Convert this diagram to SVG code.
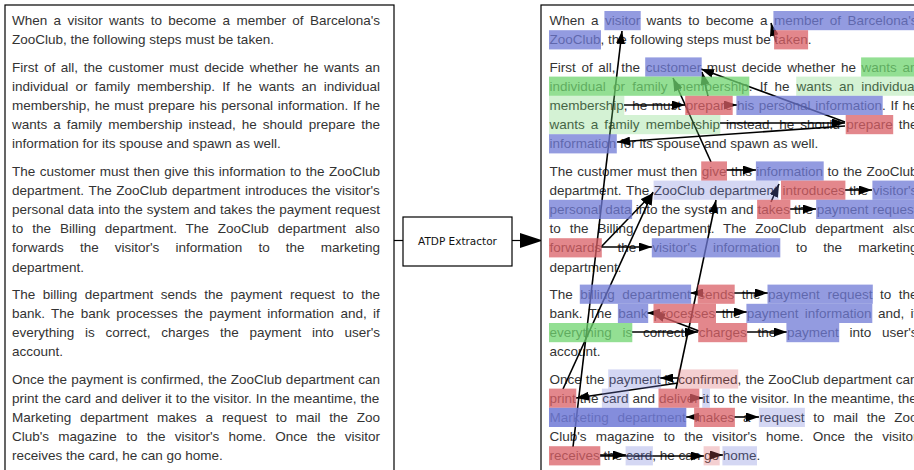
<svg xmlns="http://www.w3.org/2000/svg" width="914" height="470" viewBox="0 0 914 470">
<style>
.t{font-family:"Liberation Sans",Arial,Helvetica,sans-serif;font-size:13.5px;fill:#333}
.box{fill:#fff;stroke:#000;stroke-width:1.2}
.hb{fill:#6f79d6;fill-opacity:.75}
.hr{fill:#d95f66;fill-opacity:.75}
.hg{fill:#6fd46f;fill-opacity:.75}
.lb{fill:#6f79d6;fill-opacity:.3}
.lr{fill:#d95f66;fill-opacity:.3}
.lg{fill:#6fd46f;fill-opacity:.3}
.rel{fill:none;stroke:#000;stroke-width:1.6;marker-end:url(#ah)}
.flow{fill:none;stroke:#000;stroke-width:1.2}
</style>
<defs>
<marker id="ah" markerUnits="userSpaceOnUse" markerWidth="13" markerHeight="9" refX="13" refY="4.5" orient="auto">
<path d="M0,0 L13,4.5 L0,9 z" fill="#000"/>
</marker>
</defs>
<rect width="914" height="470" fill="#fff"/>

<g id="input-panel">
<rect class="box" x="5" y="5" width="389" height="480"/>
<text class="t" x="12" y="25.2" style="word-spacing:2.59px">When a visitor wants to become a member of Barcelona's</text>
<text class="t" x="12" y="44.4">ZooClub, the following steps must be taken.</text>
<text class="t" x="12" y="71.6" style="word-spacing:1.91px">First of all, the customer must decide whether he wants an</text>
<text class="t" x="12" y="90.8" style="word-spacing:3.42px">individual or family membership. If he wants an individual</text>
<text class="t" x="12" y="110" style="word-spacing:0.89px">membership, he must prepare his personal information. If he</text>
<text class="t" x="12" y="129.2" style="word-spacing:2.29px">wants a family membership instead, he should prepare the</text>
<text class="t" x="12" y="148.4">information for its spouse and spawn as well.</text>
<text class="t" x="12" y="175.6" style="word-spacing:0.71px">The customer must then give this information to the ZooClub</text>
<text class="t" x="12" y="194.8" style="word-spacing:0.88px">department. The ZooClub department introduces the visitor's</text>
<text class="t" x="12" y="214" style="word-spacing:0.29px">personal data into the system and takes the payment request</text>
<text class="t" x="12" y="233.2" style="word-spacing:5.19px">to the Billing department. The ZooClub department also</text>
<text class="t" x="12" y="252.4" style="word-spacing:12.38px">forwards the visitor's information to the marketing</text>
<text class="t" x="12" y="271.6">department.</text>
<text class="t" x="12" y="298.8" style="word-spacing:3.79px">The billing department sends the payment request to the</text>
<text class="t" x="12" y="318" style="word-spacing:2.57px">bank. The bank processes the payment information and, if</text>
<text class="t" x="12" y="337.2" style="word-spacing:6.97px">everything is correct, charges the payment into user's</text>
<text class="t" x="12" y="356.4">account.</text>
<text class="t" x="12" y="383.6" style="word-spacing:0.32px">Once the payment is confirmed, the ZooClub department can</text>
<text class="t" x="12" y="402.8" style="word-spacing:0.15px">print the card and deliver it to the visitor. In the meantime, the</text>
<text class="t" x="12" y="422" style="word-spacing:5.01px">Marketing department makes a request to mail the Zoo</text>
<text class="t" x="12" y="441.2" style="word-spacing:5.5px">Club's magazine to the visitor's home. Once the visitor</text>
<text class="t" x="12" y="460.4">receives the card, he can go home.</text>
</g>

<g id="atdp-extractor">
<rect class="box" x="403" y="217" width="109" height="49"/>
<text x="457.5" y="245" text-anchor="middle" style="font-family:'DejaVu Sans',sans-serif;font-size:10.5px;fill:#111">ATDP Extractor</text>
</g>

<g id="connectors">
<path class="flow" d="M394,240.5 L403,240.5"/>
<path class="flow" d="M512,240.5 L521,240.5"/>
<polygon points="520,233 543,240.5 520,248" fill="#000"/>
</g>

<g id="output-panel">
<rect class="box" x="541" y="5" width="400" height="480"/>
<g id="output-text">
<text class="t" x="549.5" y="25.2" style="word-spacing:2.59px">When a visitor wants to become a member of Barcelona's</text>
<text class="t" x="549.5" y="44.4">ZooClub, the following steps must be taken.</text>
<text class="t" x="549.5" y="71.6" style="word-spacing:1.91px">First of all, the customer must decide whether he wants an</text>
<text class="t" x="549.5" y="90.8" style="word-spacing:3.42px">individual or family membership. If he wants an individual</text>
<text class="t" x="549.5" y="110" style="word-spacing:0.89px">membership, he must prepare his personal information. If he</text>
<text class="t" x="549.5" y="129.2" style="word-spacing:2.29px">wants a family membership instead, he should prepare the</text>
<text class="t" x="549.5" y="148.4">information for its spouse and spawn as well.</text>
<text class="t" x="549.5" y="175.6" style="word-spacing:0.71px">The customer must then give this information to the ZooClub</text>
<text class="t" x="549.5" y="194.8" style="word-spacing:0.88px">department. The ZooClub department introduces the visitor's</text>
<text class="t" x="549.5" y="214" style="word-spacing:0.29px">personal data into the system and takes the payment request</text>
<text class="t" x="549.5" y="233.2" style="word-spacing:5.19px">to the Billing department. The ZooClub department also</text>
<text class="t" x="549.5" y="252.4" style="word-spacing:12.38px">forwards the visitor's information to the marketing</text>
<text class="t" x="549.5" y="271.6">department.</text>
<text class="t" x="549.5" y="298.8" style="word-spacing:3.79px">The billing department sends the payment request to the</text>
<text class="t" x="549.5" y="318" style="word-spacing:2.57px">bank. The bank processes the payment information and, if</text>
<text class="t" x="549.5" y="337.2" style="word-spacing:6.97px">everything is correct, charges the payment into user's</text>
<text class="t" x="549.5" y="356.4">account.</text>
<text class="t" x="549.5" y="383.6" style="word-spacing:0.32px">Once the payment is confirmed, the ZooClub department can</text>
<text class="t" x="549.5" y="402.8" style="word-spacing:0.15px">print the card and deliver it to the visitor. In the meantime, the</text>
<text class="t" x="549.5" y="422" style="word-spacing:5.01px">Marketing department makes a request to mail the Zoo</text>
<text class="t" x="549.5" y="441.2" style="word-spacing:5.5px">Club's magazine to the visitor's home. Once the visitor</text>
<text class="t" x="549.5" y="460.4">receives the card, he can go home.</text>
</g>

<g id="relations">
<path class="rel" d="M776,42 L771,23"/>
<path class="rel" d="M573,447 L622,31"/>
<path class="rel" d="M563,389 L653,192"/>
<path class="rel" d="M601,247 L653,193"/>
<path class="rel" d="M601,247 L652,247"/>
<path class="rel" d="M676,389 L716,200"/>
<path class="rel" d="M711,162 L673,78"/>
<path class="rel" d="M726,170 L756,170"/>
<path class="rel" d="M845,122 L701,69"/>
<path class="rel" d="M708,96 L702,72"/>
<path class="rel" d="M624,105 L685,105"/>
<path class="rel" d="M725,105 L737,105"/>
<path class="rel" d="M720,123 L845,123"/>
<path class="rel" d="M845,126 L617,142"/>
<path class="rel" d="M845,190 L872,190"/>
<path class="rel" d="M771,202 L779,184"/>
<path class="rel" d="M790,209 L816,209"/>
<path class="rel" d="M703,293 L690,293"/>
<path class="rel" d="M734,293 L768,293"/>
<path class="rel" d="M662,313 L647,313"/>
<path class="rel" d="M716,312 L747,312"/>
<path class="rel" d="M699,331 L652,313"/>
<path class="rel" d="M632,332 L698,332"/>
<path class="rel" d="M747,332 L787,332"/>
<path class="rel" d="M678,378 L660,378"/>
<path class="rel" d="M678,383 L576,398"/>
<path class="rel" d="M694,398 L703,398"/>
<path class="rel" d="M698,417 L686,417"/>
<path class="rel" d="M734,417 L759,417"/>
<path class="rel" d="M600,455 L626,455"/>
<path class="rel" d="M600,456 L704,456"/>
<path class="rel" d="M716,455 L723,455"/>
</g>

<g id="highlights">
<rect class="hb" x="604.4" y="11" width="36.3" height="19.2"/>
<rect class="hb" x="773.4" y="11" width="145" height="19.2"/>
<rect class="hb" x="549" y="30.2" width="52" height="19.2"/>
<rect class="hr" x="774.1" y="30.2" width="34" height="19.2"/>
<rect class="hb" x="645.2" y="57.4" width="56.5" height="19.2"/>
<rect class="hg" x="861.1" y="57.4" width="57" height="19.2"/>
<rect class="hg" x="549" y="76.6" width="200.3" height="19.2"/>
<rect class="lg" x="796.2" y="76.6" width="122" height="19.2"/>
<rect class="lg" x="549" y="95.8" width="75.3" height="19.2"/>
<rect class="hr" x="685.2" y="95.8" width="47.5" height="19.2"/>
<rect class="hb" x="736.4" y="95.8" width="146.3" height="19.2"/>
<rect class="lg" x="549" y="115" width="171.4" height="19.2"/>
<rect class="hr" x="845.7" y="115" width="47.5" height="19.2"/>
<rect class="hb" x="549" y="134.2" width="67.8" height="19.2"/>
<rect class="hr" x="701.2" y="161.4" width="25.8" height="19.2"/>
<rect class="hb" x="755.9" y="161.4" width="67.8" height="19.2"/>
<rect class="lb" x="653.6" y="180.6" width="125" height="19.2"/>
<rect class="hr" x="781" y="180.6" width="64.4" height="19.2"/>
<rect class="hb" x="872.4" y="180.6" width="46" height="19.2"/>
<rect class="hb" x="549" y="199.8" width="83.1" height="19.2"/>
<rect class="hr" x="757.1" y="199.8" width="33.3" height="19.2"/>
<rect class="hb" x="816.2" y="199.8" width="102" height="19.2"/>
<rect class="hr" x="549" y="238.2" width="52.8" height="19.2"/>
<rect class="hb" x="651.8" y="238.2" width="128.5" height="19.2"/>
<rect class="hb" x="579.8" y="284.6" width="111.3" height="19.2"/>
<rect class="hr" x="697.7" y="284.6" width="37" height="19.2"/>
<rect class="hb" x="767.5" y="284.6" width="105.3" height="19.2"/>
<rect class="hb" x="617.9" y="303.8" width="30.3" height="19.2"/>
<rect class="hr" x="653.5" y="303.8" width="62.5" height="19.2"/>
<rect class="hb" x="746.4" y="303.8" width="125.9" height="19.2"/>
<rect class="hg" x="549" y="323" width="83.3" height="19.2"/>
<rect class="hr" x="698.2" y="323" width="49" height="19.2"/>
<rect class="hb" x="786.4" y="323" width="52.8" height="19.2"/>
<rect class="lb" x="608.2" y="369.4" width="52.8" height="19.2"/>
<rect class="lr" x="677.9" y="369.4" width="60.3" height="19.2"/>
<rect class="hr" x="549" y="388.6" width="27.3" height="19.2"/>
<rect class="lb" x="601.9" y="388.6" width="27.3" height="19.2"/>
<rect class="hr" x="658.5" y="388.6" width="40.8" height="19.2"/>
<rect class="lb" x="702.2" y="388.6" width="7.7" height="19.2"/>
<rect class="hb" x="549" y="407.8" width="137.3" height="19.2" style="fill-opacity:.85"/>
<rect class="hr" x="694.1" y="407.8" width="40.8" height="19.2"/>
<rect class="lb" x="758.9" y="407.8" width="46" height="19.2"/>
<rect class="hr" x="549" y="446.2" width="51.3" height="19.2"/>
<rect class="lb" x="625.6" y="446.2" width="27.3" height="19.2"/>
<rect class="lr" x="703.6" y="446.2" width="16.1" height="19.2"/>
<rect class="lb" x="722.4" y="446.2" width="34.6" height="19.2"/>
</g>
</g>
</svg>
